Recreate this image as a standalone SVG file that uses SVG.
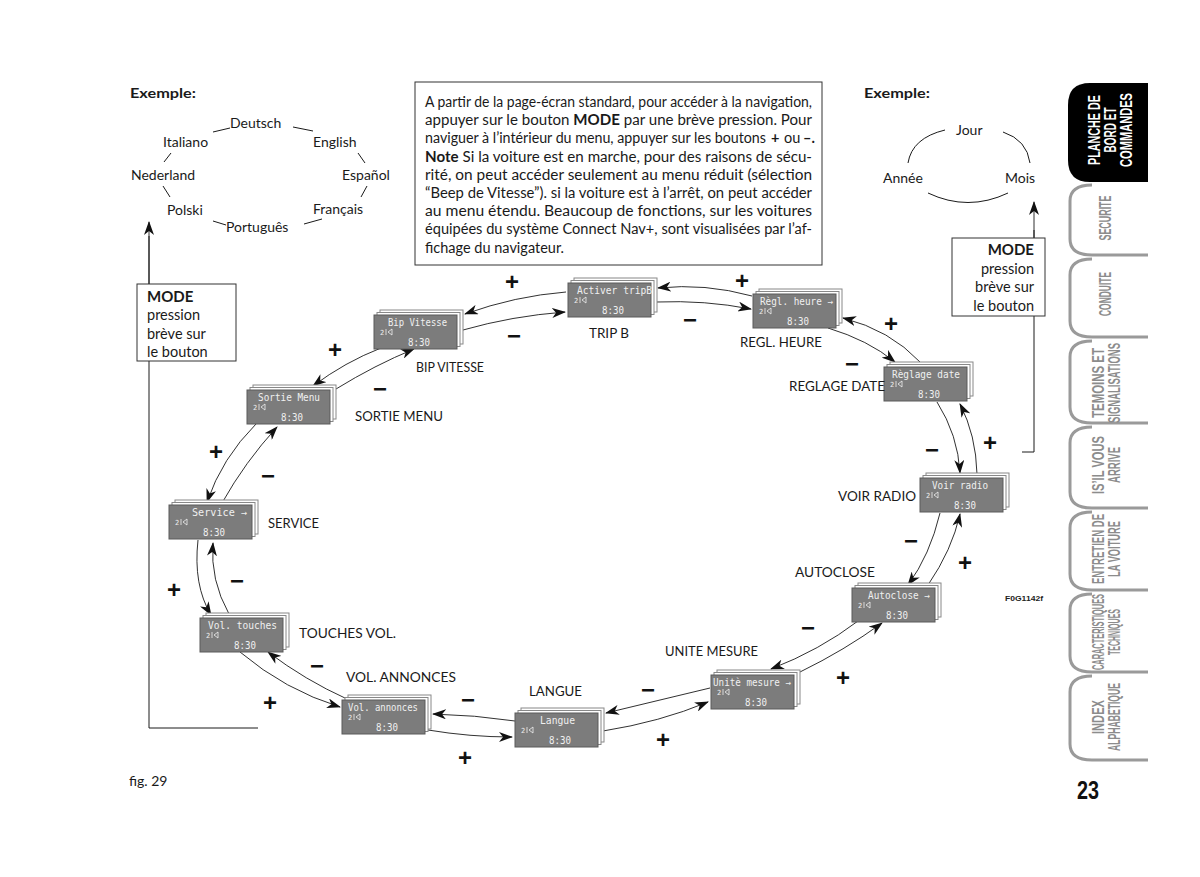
<svg xmlns="http://www.w3.org/2000/svg" width="1200" height="877" viewBox="0 0 1200 877">
<style>
.t{font-family:Lato,"Liberation Sans",sans-serif;fill:#1a1a1a}
.p{font-size:14.5px}
.b{font-weight:bold}
.lbl{font-size:14px}
.pm{font-family:"Liberation Sans",Arial,sans-serif;font-weight:bold;font-size:24px;text-anchor:middle;fill:#111}
.lcd{font-family:"DejaVu Sans Mono",monospace;font-size:10.5px;fill:#f0f0f0}
.clk{font-family:"DejaVu Sans Mono",monospace;font-size:11px;fill:#f0f0f0}
.sm{font-family:"DejaVu Sans Mono",monospace;font-size:7px;fill:#f0f0f0}
.ln{fill:none;stroke:#1a1a1a;stroke-width:1}
.ar{fill:none;stroke:#1a1a1a;stroke-width:0.9;marker-end:url(#ah)}
.tab{fill:none;stroke:#9a9a9a;stroke-width:3}
.tabt{font-family:"Liberation Sans",Arial,sans-serif;font-weight:bold;font-size:16px;fill:#8c8c8c;text-anchor:middle}
.box{fill:#fff;stroke:#333;stroke-width:1}
</style>
<defs>
<marker id="ah" viewBox="0 0 14 10" refX="13" refY="5" markerWidth="14" markerHeight="10" markerUnits="userSpaceOnUse" orient="auto"><path d="M0,0 L14,5 L0,10 L4,5 z" fill="#111"/></marker>
<g id="scr">
<rect x="6" y="-5" width="83" height="34" fill="#fff" stroke="#888" stroke-width="1"/>
<rect x="3" y="-2.5" width="83" height="34" fill="#fff" stroke="#888" stroke-width="1"/>
<rect x="0" y="0" width="83" height="34" fill="#7c7c7c" stroke="#5a5a5a" stroke-width="1"/>
<text class="sm" x="6" y="20">2</text>
<path d="M12,14 v6 M14,17 l4,-3 v6 z" fill="none" stroke="#f0f0f0" stroke-width="0.8"/>
<text class="clk" x="34" y="31" textLength="22" lengthAdjust="spacingAndGlyphs">8:30</text>
</g>
</defs>
<rect width="1200" height="877" fill="#fff"/>

<!-- left example -->
<g id="example-left">
<text class="t b" x="130" y="98" font-size="14" textLength="66" lengthAdjust="spacingAndGlyphs">Exemple:</text>
<text class="t" font-size="14" x="230" y="128">Deutsch</text>
<text class="t" font-size="14" x="163" y="147">Italiano</text>
<text class="t" font-size="14" x="313" y="147">English</text>
<text class="t" font-size="14" x="131" y="180">Nederland</text>
<text class="t" font-size="14" x="342" y="180">Español</text>
<text class="t" font-size="14" x="167" y="215">Polski</text>
<text class="t" font-size="14" x="313" y="214">Français</text>
<text class="t" font-size="14" x="226" y="232">Português</text>
<path class="ln" d="M213,132 L230,128 M293,127 L313,131 M358,153 L365,163 M367,186 L361,197 M322,219 L304,224 M213,221 L226,225 M163,186 L170,197 M164,162 L171,153"/>
</g>

<!-- right example -->
<g id="example-right">
<text class="t b" x="864" y="98" font-size="14" textLength="66" lengthAdjust="spacingAndGlyphs">Exemple:</text>
<text class="t" font-size="14" x="956" y="135">Jour</text>
<text class="t" font-size="14" x="883" y="183">Année</text>
<text class="t" font-size="14" x="1005" y="183">Mois</text>
<path class="ln" d="M908,163 Q912,138 945,130 M1003,132 Q1027,140 1030,163 M928,193 Q968,212 1008,193"/>
</g>

<!-- text box -->
<g id="note-box">
<rect class="box" x="415" y="82" width="407" height="183"/>
<text class="t p" x="425" y="107" textLength="387" lengthAdjust="spacingAndGlyphs">A partir de la page-écran standard, pour accéder à la navigation,</text>
<text class="t p" x="425" y="125.2" textLength="387" lengthAdjust="spacingAndGlyphs">appuyer sur le bouton <tspan class="b">MODE</tspan> par une brève pression. Pour</text>
<text class="t p" x="425" y="143.4" textLength="341" lengthAdjust="spacingAndGlyphs">naviguer à l’intérieur du menu, appuyer sur les boutons</text>
<text class="t p b" x="771" y="143.4">+</text>
<text class="t p" x="784" y="143.4">ou</text>
<text class="t p b" x="803" y="143.4">–.</text>
<text class="t p" x="425" y="161.6" textLength="387" lengthAdjust="spacingAndGlyphs"><tspan class="b">Note</tspan> Si la voiture est en marche, pour des raisons de sécu-</text>
<text class="t p" x="425" y="179.8" textLength="387" lengthAdjust="spacingAndGlyphs">rité, on peut accéder seulement au menu réduit (sélection</text>
<text class="t p" x="425" y="198" textLength="387" lengthAdjust="spacingAndGlyphs">“Beep de Vitesse”). si la voiture est à l’arrêt, on peut accéder</text>
<text class="t p" x="425" y="216.2" textLength="387" lengthAdjust="spacingAndGlyphs">au menu étendu. Beaucoup de fonctions, sur les voitures</text>
<text class="t p" x="425" y="234.4" textLength="387" lengthAdjust="spacingAndGlyphs">équipées du système Connect Nav+, sont visualisées par l’af-</text>
<text class="t p" x="425" y="252.6">fichage du navigateur.</text>
</g>

<!-- connectors -->
<g id="connectors">
<path class="ln" d="M149,728 L149,236 M149,728 L258,728"/>
<path class="ar" d="M149,300 L149,222"/>
<path class="ln" d="M1022,452 L1034,452 L1034,230"/>
<path class="ar" d="M1034,260 L1034,202"/>

<path class="ar" d="M752,296 Q705,283 658,288"/>
<path class="ar" d="M656,302 Q705,300 751,309"/>
<path class="ar" d="M566,292 Q515,296 465,314"/>
<path class="ar" d="M463,330 Q512,316 565,312"/>
<path class="ar" d="M381,348 Q345,362 313,386"/>
<path class="ar" d="M336,389 Q375,365 414,349"/>
<path class="ar" d="M256,424 Q222,458 207,502"/>
<path class="ar" d="M222,503 Q245,462 277,427"/>
<path class="ar" d="M198,540 Q193,585 211,615"/>
<path class="ar" d="M229,614 Q210,580 213,543"/>
<path class="ar" d="M240,652 Q285,690 340,707"/>
<path class="ar" d="M347,699 Q305,680 268,652"/>
<path class="ar" d="M515,721 Q475,715 433,714"/>
<path class="ar" d="M428,730 Q470,737 512,737"/>
<path class="ar" d="M710,688 Q660,700 606,713"/>
<path class="ar" d="M603,731 Q660,722 708,702"/>
<path class="ar" d="M858,621 Q820,650 771,669"/>
<path class="ar" d="M800,672 Q845,650 882,623"/>
<path class="ar" d="M940,513 Q930,555 908,585"/>
<path class="ar" d="M928,585 Q952,550 960,514"/>
<path class="ar" d="M937,402 Q958,435 960,473"/>
<path class="ar" d="M977,474 Q976,435 960,404"/>
<path class="ar" d="M920,362 Q890,330 843,318"/>
<path class="ar" d="M828,328 Q868,340 895,362"/>

<text class="pm" x="512" y="290">+</text><text class="pm" x="514" y="344">−</text>
<text class="pm" x="742" y="289">+</text><text class="pm" x="690" y="328">−</text>
<text class="pm" x="335" y="358">+</text><text class="pm" x="380" y="397">−</text>
<text class="pm" x="216" y="460">+</text><text class="pm" x="268" y="484">−</text>
<text class="pm" x="174" y="598">+</text><text class="pm" x="237" y="589">−</text>
<text class="pm" x="317" y="674">−</text><text class="pm" x="270" y="711">+</text>
<text class="pm" x="468" y="708">−</text><text class="pm" x="465" y="766">+</text>
<text class="pm" x="648" y="698">−</text><text class="pm" x="663" y="748">+</text>
<text class="pm" x="808" y="636">−</text><text class="pm" x="843" y="686">+</text>
<text class="pm" x="911" y="549">−</text><text class="pm" x="965" y="571">+</text>
<text class="pm" x="932" y="458">−</text><text class="pm" x="990" y="451">+</text>
<text class="pm" x="891" y="332">+</text><text class="pm" x="852" y="372">−</text>
</g>

<!-- MODE boxes -->
<g id="mode-left">
<rect class="box" x="137" y="284" width="99" height="77"/>
<text class="t b" x="147" y="302" font-size="15">MODE</text>
<text class="t" x="147" y="320" font-size="14.5">pression</text>
<text class="t" x="147" y="339" font-size="14.5">brève sur</text>
<text class="t" x="147" y="357" font-size="14.5">le bouton</text>
</g>
<g id="mode-right">
<rect class="box" x="952" y="238" width="93" height="78"/>
<text class="t b" x="1034" y="255" font-size="15" text-anchor="end">MODE</text>
<text class="t" x="1034" y="274" font-size="14.5" text-anchor="end">pression</text>
<text class="t" x="1034" y="292" font-size="14.5" text-anchor="end">brève sur</text>
<text class="t" x="1034" y="311" font-size="14.5" text-anchor="end">le bouton</text>
</g>

<!-- screen nodes -->
<g id="n-tripb" transform="translate(568,283)"><use href="#scr"/><text class="lcd" x="9" y="10.5" textLength="75" lengthAdjust="spacingAndGlyphs">Activer tripB</text></g>
<g id="n-reglheure" transform="translate(753,294)"><use href="#scr"/><text class="lcd" x="7" y="10.5" textLength="73" lengthAdjust="spacingAndGlyphs">Règl. heure →</text></g>
<g id="n-regldate" transform="translate(884,367)"><use href="#scr"/><text class="lcd" x="8" y="10.5" textLength="68" lengthAdjust="spacingAndGlyphs">Règlage date</text></g>
<g id="n-voirradio" transform="translate(920,478)"><use href="#scr"/><text class="lcd" x="12" y="10.5" textLength="56" lengthAdjust="spacingAndGlyphs">Voir radio</text></g>
<g id="n-autoclose" transform="translate(852,588)"><use href="#scr"/><text class="lcd" x="16" y="10.5" textLength="62" lengthAdjust="spacingAndGlyphs">Autoclose →</text></g>
<g id="n-unite" transform="translate(711,675)"><use href="#scr"/><text class="lcd" x="2" y="10.5" textLength="78" lengthAdjust="spacingAndGlyphs">Unitè mesure →</text></g>
<g id="n-langue" transform="translate(515,713)"><use href="#scr"/><text class="lcd" x="25" y="10.5" textLength="35" lengthAdjust="spacingAndGlyphs">Langue</text></g>
<g id="n-volann" transform="translate(342,700)"><use href="#scr"/><text class="lcd" x="6" y="10.5" textLength="70" lengthAdjust="spacingAndGlyphs">Vol. annonces</text></g>
<g id="n-voltouch" transform="translate(200,618)"><use href="#scr"/><text class="lcd" x="8" y="10.5" textLength="69" lengthAdjust="spacingAndGlyphs">Vol. touches</text></g>
<g id="n-service" transform="translate(169,505)"><use href="#scr"/><text class="lcd" x="23" y="10.5" textLength="55" lengthAdjust="spacingAndGlyphs">Service →</text></g>
<g id="n-sortie" transform="translate(247,390)"><use href="#scr"/><text class="lcd" x="11" y="10.5" textLength="62" lengthAdjust="spacingAndGlyphs">Sortie Menu</text></g>
<g id="n-bip" transform="translate(374,315)"><use href="#scr"/><text class="lcd" x="14" y="10.5" textLength="59" lengthAdjust="spacingAndGlyphs">Bip Vitesse</text></g>

<!-- node captions -->
<g id="captions">
<text class="t lbl" x="589" y="338" textLength="40" lengthAdjust="spacingAndGlyphs">TRIP B</text>
<text class="t lbl" x="740" y="347" textLength="82" lengthAdjust="spacingAndGlyphs">REGL. HEURE</text>
<text class="t lbl" x="789" y="391" textLength="96" lengthAdjust="spacingAndGlyphs">REGLAGE DATE</text>
<text class="t lbl" x="838" y="501" textLength="78" lengthAdjust="spacingAndGlyphs">VOIR RADIO</text>
<text class="t lbl" x="795" y="577" textLength="80" lengthAdjust="spacingAndGlyphs">AUTOCLOSE</text>
<text class="t lbl" x="665" y="656" textLength="93" lengthAdjust="spacingAndGlyphs">UNITE MESURE</text>
<text class="t lbl" x="529" y="696" textLength="53" lengthAdjust="spacingAndGlyphs">LANGUE</text>
<text class="t lbl" x="346" y="682" textLength="110" lengthAdjust="spacingAndGlyphs">VOL. ANNONCES</text>
<text class="t lbl" x="299" y="638" textLength="97" lengthAdjust="spacingAndGlyphs">TOUCHES VOL.</text>
<text class="t lbl" x="268" y="528" textLength="51" lengthAdjust="spacingAndGlyphs">SERVICE</text>
<text class="t lbl" x="355" y="421" textLength="88" lengthAdjust="spacingAndGlyphs">SORTIE MENU</text>
<text class="t lbl" x="416" y="372" textLength="68" lengthAdjust="spacingAndGlyphs">BIP VITESSE</text>
<text x="1005" y="601" font-family="Liberation Sans,Arial,sans-serif" font-weight="bold" font-size="8" fill="#222" textLength="38" lengthAdjust="spacingAndGlyphs">F0G1142f</text>
<text class="t" x="129" y="786" font-size="14">fig. 29</text>
</g>

<!-- side tabs -->
<g id="tabs">
<path d="M1148,83 L1090,83 Q1068,83 1068,105 L1068,160 Q1068,182 1090,182 L1148,182 Z" fill="#000"/>
<text class="tabt" style="fill:#fff" font-size="15" transform="translate(1100,130) rotate(-90)" textLength="70" lengthAdjust="spacingAndGlyphs">PLANCHE DE</text>
<text class="tabt" style="fill:#fff" font-size="15" transform="translate(1116,130) rotate(-90)" textLength="45" lengthAdjust="spacingAndGlyphs">BORD ET</text>
<text class="tabt" style="fill:#fff" font-size="15" transform="translate(1132,130) rotate(-90)" textLength="74" lengthAdjust="spacingAndGlyphs">COMMANDES</text>

<path class="tab" d="M1092,185 Q1070,185 1070,201 L1070,239 Q1070,255 1092,255 L1148,255"/>
<text class="tabt" transform="translate(1111,218) rotate(-90)" textLength="45" lengthAdjust="spacingAndGlyphs">SECURITE</text>

<path class="tab" d="M1092,259 Q1070,259 1070,275 L1070,321 Q1070,337 1092,337 L1148,337"/>
<text class="tabt" transform="translate(1111,294) rotate(-90)" textLength="44" lengthAdjust="spacingAndGlyphs">CONDUITE</text>

<path class="tab" d="M1092,341 Q1070,341 1070,357 L1070,407 Q1070,423 1092,423 L1148,423"/>
<text class="tabt" transform="translate(1104,383) rotate(-90)" textLength="70" lengthAdjust="spacingAndGlyphs">TEMOINS ET</text>
<text class="tabt" transform="translate(1120,383) rotate(-90)" textLength="80" lengthAdjust="spacingAndGlyphs">SIGNALISATIONS</text>

<path class="tab" d="M1092,427 Q1070,427 1070,443 L1070,492 Q1070,508 1092,508 L1148,508"/>
<text class="tabt" transform="translate(1104,465) rotate(-90)" textLength="58" lengthAdjust="spacingAndGlyphs">IS’IL VOUS</text>
<text class="tabt" transform="translate(1120,465) rotate(-90)" textLength="36" lengthAdjust="spacingAndGlyphs">ARRIVE</text>

<path class="tab" d="M1092,512 Q1070,512 1070,528 L1070,574 Q1070,590 1092,590 L1148,590"/>
<text class="tabt" transform="translate(1104,549) rotate(-90)" textLength="70" lengthAdjust="spacingAndGlyphs">ENTRETIEN DE</text>
<text class="tabt" transform="translate(1120,549) rotate(-90)" textLength="56" lengthAdjust="spacingAndGlyphs">LA VOITURE</text>

<path class="tab" d="M1092,594 Q1070,594 1070,610 L1070,656 Q1070,672 1092,672 L1148,672"/>
<text class="tabt" transform="translate(1104,632) rotate(-90)" textLength="76" lengthAdjust="spacingAndGlyphs">CARACTERISTIQUES</text>
<text class="tabt" transform="translate(1120,632) rotate(-90)" textLength="46" lengthAdjust="spacingAndGlyphs">TECHNIQUES</text>

<path class="tab" d="M1092,676 Q1070,676 1070,692 L1070,744 Q1070,760 1092,760 L1148,760"/>
<text class="tabt" transform="translate(1104,717) rotate(-90)" textLength="34" lengthAdjust="spacingAndGlyphs">INDEX</text>
<text class="tabt" transform="translate(1120,717) rotate(-90)" textLength="68" lengthAdjust="spacingAndGlyphs">ALPHABETIQUE</text>

<text x="1077" y="799" font-family="Liberation Sans,Arial,sans-serif" font-weight="bold" font-size="26" fill="#111" textLength="22" lengthAdjust="spacingAndGlyphs">23</text>
</g>
</svg>
